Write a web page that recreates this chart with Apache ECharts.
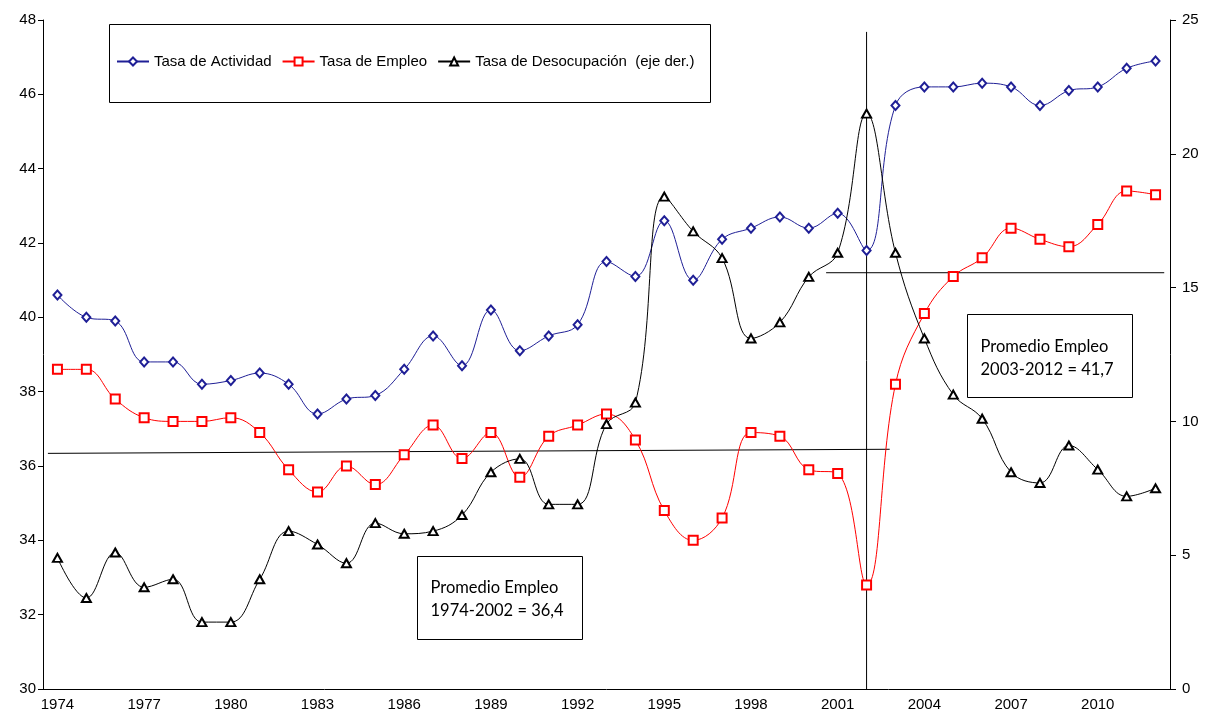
<!DOCTYPE html>
<html>
<head>
<meta charset="utf-8">
<script src="https://cdn.jsdelivr.net/npm/echarts@6/dist/echarts.min.js"></script>
<style>
html,body{margin:0;padding:0;background:#fff;}
#chart{width:1208px;height:716px;}
</style>
</head>
<body>
<div id="chart"></div>
<script>
var years = ['1974','1975','1976','1977','1978','1979','1980','1981','1982','1983','1984','1985','1986','1987','1988','1989','1990','1991','1992','1993','1994','1995','1996','1997','1998','1999','2000','2001','2002','2003','2004','2005','2006','2007','2008','2009','2010','2011','2012'];
var actividad = [40.6,40.0,39.9,38.8,38.8,38.2,38.3,38.5,38.2,37.4,37.8,37.9,38.6,39.5,38.7,40.2,39.1,39.5,39.8,41.5,41.1,42.6,41.0,42.1,42.4,42.7,42.4,42.8,41.8,45.7,46.2,46.2,46.3,46.2,45.7,46.1,46.2,46.7,46.9];
var empleo = [38.6,38.6,37.8,37.3,37.2,37.2,37.3,36.9,35.9,35.3,36.0,35.5,36.3,37.1,36.2,36.9,35.7,36.8,37.1,37.4,36.7,34.8,34.0,34.6,36.9,36.8,35.9,35.8,32.8,38.2,40.1,41.1,41.6,42.4,42.1,41.9,42.5,43.4,43.3];
var desocupacion = [4.9,3.4,5.1,3.8,4.1,2.5,2.5,4.1,5.9,5.4,4.7,6.2,5.8,5.9,6.5,8.1,8.6,6.9,6.9,9.9,10.7,18.4,17.1,16.1,13.1,13.7,15.4,16.3,21.5,16.3,13.1,11.0,10.1,8.1,7.7,9.1,8.2,7.2,7.5];
var leftTicks = {min:30, max:48, interval:2};
var rightTicks = {min:0, max:25, interval:5};
// annotation lines (x in category-index units, y on left axis)
var promedio1 = [[-0.33,36.34],[28.8,36.45]];
var promedio2 = [[26.6,41.2],[38.3,41.2]];
var corte2002 = [[28,30],[28,47.68]];
var box1Text = ['Promedio Empleo','1974-2002 = 36,4'];
var box2Text = ['Promedio Empleo','2003-2012 = 41,7'];

var chart = echarts.init(document.getElementById('chart'), null, {renderer:'canvas'});
var axisFont = {fontFamily:'Liberation Sans', fontSize:15, color:'#000'};
var boxFont = 'Lato';
function annot(d){
  return {type:'line', xAxisIndex:1, yAxisIndex:0, data:d, symbol:'none', silent:true,
    lineStyle:{color:'#000', width:1}, z:1, animation:false, legendHoverLink:false};
}
var option = {
  animation:false,
  backgroundColor:'#fff',
  grid:{left:43, right:38, top:20, bottom:27, containLabel:false},
  legend:{
    left:116, top:54, itemWidth:32, itemHeight:10, itemGap:10, padding:0,
    data:['Tasa de Actividad','Tasa de Empleo','Tasa de Desocupación  (eje der.)'],
    textStyle:{fontFamily:'Liberation Sans', fontSize:15, color:'#000'}
  },
  xAxis:[{
    type:'category', data:years, boundaryGap:true,
    axisLine:{onZero:false, lineStyle:{color:'#000', width:1}},
    axisTick:{interval:0, length:5, lineStyle:{color:'#000'}},
    axisLabel:Object.assign({interval:2, margin:8}, axisFont),
    splitLine:{show:false}
  },{
    type:'value', min:-0.5, max:38.5, show:false
  }],
  yAxis:[{
    type:'value', min:leftTicks.min, max:leftTicks.max, interval:leftTicks.interval,
    axisLine:{show:true, onZero:false, lineStyle:{color:'#000'}},
    axisTick:{show:true, length:5, lineStyle:{color:'#000'}},
    axisLabel:Object.assign({margin:7}, axisFont),
    splitLine:{show:false}
  },{
    type:'value', min:rightTicks.min, max:rightTicks.max, interval:rightTicks.interval, position:'right',
    axisLine:{show:true, onZero:false, lineStyle:{color:'#000'}},
    axisTick:{show:true, length:6, lineStyle:{color:'#000'}},
    axisLabel:Object.assign({margin:12}, axisFont),
    splitLine:{show:false}
  }],
  series:[
    annot(promedio1), annot(promedio2), annot(corte2002),
    {name:'Tasa de Actividad', type:'line', data:actividad, yAxisIndex:0, smooth:0.4,
      symbol:'emptyDiamond', symbolSize:[8,9], showAllSymbol:true,
      lineStyle:{color:'#1f1f96', width:1}, itemStyle:{color:'#1f1f96', borderWidth:1}, z:3},
    {name:'Tasa de Empleo', type:'line', data:empleo, yAxisIndex:0, smooth:0.4,
      symbol:'emptyRect', symbolSize:9, showAllSymbol:true,
      lineStyle:{color:'#ff0000', width:1}, itemStyle:{color:'#ff0000', borderWidth:1}, z:3},
    {name:'Tasa de Desocupación  (eje der.)', type:'line', data:desocupacion, yAxisIndex:1, smooth:0.4,
      symbol:'emptyTriangle', symbolSize:[9,8], showAllSymbol:true,
      lineStyle:{color:'#000', width:1}, itemStyle:{color:'#000', borderWidth:1}, z:3}
  ],
  graphic:[
    {type:'rect', left:107, top:22, shape:{width:601, height:78}, style:{fill:'none', stroke:'#000', lineWidth:1}, z:0, silent:true},
    {type:'group', left:417, top:556, z:10, children:[
      {type:'rect', shape:{x:0, y:0, width:165, height:83}, style:{fill:'#fff', stroke:'#000', lineWidth:1}},
      {type:'text', x:13, y:31, style:{text:box1Text[0], font:'16.5px '+boxFont, fill:'#000', textVerticalAlign:'middle'}},
      {type:'text', x:13, y:54, style:{text:box1Text[1], font:'16.5px '+boxFont, fill:'#000', textVerticalAlign:'middle'}}
    ]},
    {type:'group', left:967, top:314, z:10, children:[
      {type:'rect', shape:{x:0, y:0, width:165, height:83}, style:{fill:'#fff', stroke:'#000', lineWidth:1}},
      {type:'text', x:13, y:32, style:{text:box2Text[0], font:'16.5px '+boxFont, fill:'#000', textVerticalAlign:'middle'}},
      {type:'text', x:13, y:55, style:{text:box2Text[1], font:'16.5px '+boxFont, fill:'#000', textVerticalAlign:'middle'}}
    ]}
  ]
};
chart.setOption(option);
</script>
</body>
</html>
